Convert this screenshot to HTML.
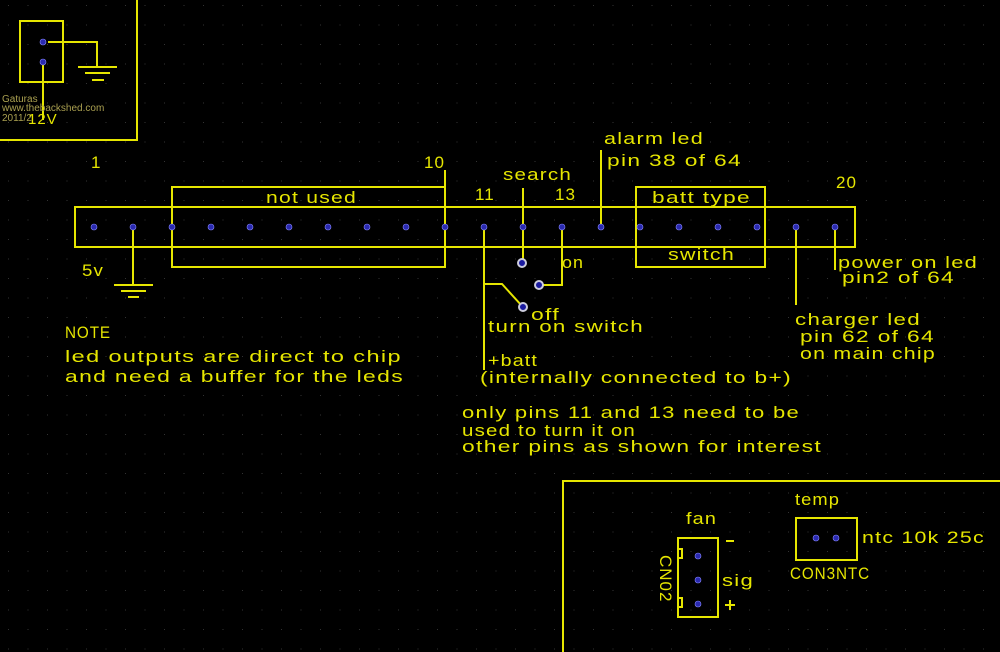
<!DOCTYPE html>
<html><head><style>
html,body{margin:0;padding:0;background:#000;}
svg{display:block}
text{font-family:"Liberation Sans",sans-serif;fill:#e6e600;font-size:17px;letter-spacing:1px}
</style></head><body>
<svg width="1000" height="652" viewBox="0 0 1000 652">
<defs><pattern id="g" width="19.5" height="19.5" patternUnits="userSpaceOnUse" x="8" y="5"><rect width="1" height="1" fill="#333"/></pattern></defs>
<rect width="1000" height="652" fill="#000"/>
<rect width="1000" height="652" fill="url(#g)"/>
<g stroke="#e6e600" stroke-width="2" fill="none">
<polyline points="0,140 137,140 137,0"/>
<rect x="20" y="21" width="43" height="61"/>
<polyline points="48,42 97,42 97,67"/>
<line x1="78" y1="67" x2="117" y2="67"/><line x1="85" y1="73" x2="110" y2="73"/><line x1="92" y1="80" x2="104" y2="80"/>
<line x1="43" y1="63" x2="43" y2="120"/>
<rect x="75" y="207" width="780" height="40"/>
<rect x="172" y="187" width="273" height="80"/>
<rect x="636" y="187" width="129" height="80"/>
<line x1="445" y1="170" x2="445" y2="187"/>
<line x1="523" y1="188" x2="523" y2="262"/>
<line x1="601" y1="150" x2="601" y2="227"/>
<polyline points="562,227 562,285 540,285"/>
<line x1="484" y1="227" x2="484" y2="370"/>
<polyline points="484,284 502,284 522,306"/>
<line x1="133" y1="227" x2="133" y2="285"/>
<line x1="114" y1="285" x2="153" y2="285"/><line x1="121" y1="291" x2="146" y2="291"/><line x1="128" y1="297" x2="139" y2="297"/>
<line x1="796" y1="227" x2="796" y2="305"/>
<line x1="835" y1="227" x2="835" y2="270"/>
<polyline points="563,652 563,481 1000,481"/>
<rect x="678" y="538" width="40" height="79"/>
<rect x="678" y="549" width="4" height="9"/><rect x="678" y="598" width="4" height="9"/>
<line x1="726" y1="541" x2="734" y2="541"/>
<line x1="730" y1="600" x2="730" y2="610"/><line x1="725" y1="605" x2="735" y2="605"/>
<rect x="796" y="518" width="61" height="42"/>
</g>
<g fill="#2a2ab0" stroke="#8888ff" stroke-width="0.6">
<circle cx="43" cy="42" r="3"/><circle cx="43" cy="62" r="3"/>
<circle cx="94" cy="227" r="3"/><circle cx="133" cy="227" r="3"/><circle cx="172" cy="227" r="3"/><circle cx="211" cy="227" r="3"/><circle cx="250" cy="227" r="3"/><circle cx="289" cy="227" r="3"/><circle cx="328" cy="227" r="3"/><circle cx="367" cy="227" r="3"/><circle cx="406" cy="227" r="3"/><circle cx="445" cy="227" r="3"/><circle cx="484" cy="227" r="3"/><circle cx="523" cy="227" r="3"/><circle cx="562" cy="227" r="3"/><circle cx="601" cy="227" r="3"/><circle cx="640" cy="227" r="3"/><circle cx="679" cy="227" r="3"/><circle cx="718" cy="227" r="3"/><circle cx="757" cy="227" r="3"/><circle cx="796" cy="227" r="3"/><circle cx="835" cy="227" r="3"/>
<circle cx="698" cy="556" r="3"/><circle cx="698" cy="580" r="3"/><circle cx="698" cy="604" r="3"/>
<circle cx="816" cy="538" r="3"/><circle cx="836" cy="538" r="3"/>
</g>
<g fill="#1a1aa0" stroke="#ccccdd" stroke-width="2">
<circle cx="522" cy="263" r="4"/><circle cx="539" cy="285" r="4"/><circle cx="523" cy="307" r="4"/>
</g>
<text x="2" y="102" style="font-size:10px;letter-spacing:0;fill:#aaa050">Gaturas</text>
<text x="2" y="111" style="font-size:10px;letter-spacing:0;fill:#aaa050">www.thebackshed.com</text>
<text x="2" y="121" style="font-size:10px;letter-spacing:0;fill:#aaa050">2011/2</text>
<text x="28" y="124" style="font-size:15px">12V</text>
<text x="91" y="168">1</text>
<text x="424" y="168">10</text>
<text x="475" y="200">11</text>
<text x="503" y="180" textLength="69" lengthAdjust="spacingAndGlyphs">search</text>
<text x="555" y="200">13</text>
<text x="604" y="144" textLength="100" lengthAdjust="spacingAndGlyphs">alarm led</text>
<text x="607" y="166" textLength="135" lengthAdjust="spacingAndGlyphs">pin 38 of 64</text>
<text x="836" y="188">20</text>
<text x="266" y="203" textLength="91" lengthAdjust="spacingAndGlyphs">not used</text>
<text x="652" y="203" textLength="99" lengthAdjust="spacingAndGlyphs">batt type</text>
<text x="668" y="260" textLength="67" lengthAdjust="spacingAndGlyphs">switch</text>
<text x="82" y="276" textLength="22" lengthAdjust="spacingAndGlyphs">5v</text>
<text x="562" y="268" textLength="22" lengthAdjust="spacingAndGlyphs">on</text>
<text x="531" y="320" textLength="29" lengthAdjust="spacingAndGlyphs">off</text>
<text x="488" y="332" textLength="156" lengthAdjust="spacingAndGlyphs">turn on switch</text>
<text x="838" y="268" textLength="140" lengthAdjust="spacingAndGlyphs">power on led</text>
<text x="842" y="283" textLength="113" lengthAdjust="spacingAndGlyphs">pin2 of 64</text>
<text x="795" y="325" textLength="126" lengthAdjust="spacingAndGlyphs">charger led</text>
<text x="800" y="342" textLength="135" lengthAdjust="spacingAndGlyphs">pin 62 of 64</text>
<text x="800" y="359" textLength="136" lengthAdjust="spacingAndGlyphs">on main chip</text>
<text x="65" y="338" textLength="46" lengthAdjust="spacingAndGlyphs">NOTE</text>
<text x="65" y="362" textLength="337" lengthAdjust="spacingAndGlyphs">led outputs are direct to chip</text>
<text x="65" y="382" textLength="339" lengthAdjust="spacingAndGlyphs">and need a buffer for the leds</text>
<text x="488" y="366" textLength="50" lengthAdjust="spacingAndGlyphs">+batt</text>
<text x="480" y="383" textLength="312" lengthAdjust="spacingAndGlyphs">(internally connected to b+)</text>
<text x="462" y="418" textLength="338" lengthAdjust="spacingAndGlyphs">only pins 11 and 13 need to be</text>
<text x="462" y="436" textLength="174" lengthAdjust="spacingAndGlyphs">used to turn it on</text>
<text x="462" y="452" textLength="360" lengthAdjust="spacingAndGlyphs">other pins as shown for interest</text>
<text x="686" y="524" textLength="31" lengthAdjust="spacingAndGlyphs">fan</text>
<text x="722" y="586" textLength="32" lengthAdjust="spacingAndGlyphs">sig</text>
<text x="795" y="505" textLength="45" lengthAdjust="spacingAndGlyphs">temp</text>
<text x="862" y="543" textLength="123" lengthAdjust="spacingAndGlyphs">ntc 10k 25c</text>
<text x="790" y="579" textLength="80" lengthAdjust="spacingAndGlyphs">CON3NTC</text>
<text transform="translate(660,555) rotate(90)" x="0" y="0">CN02</text>
</svg>
</body></html>
